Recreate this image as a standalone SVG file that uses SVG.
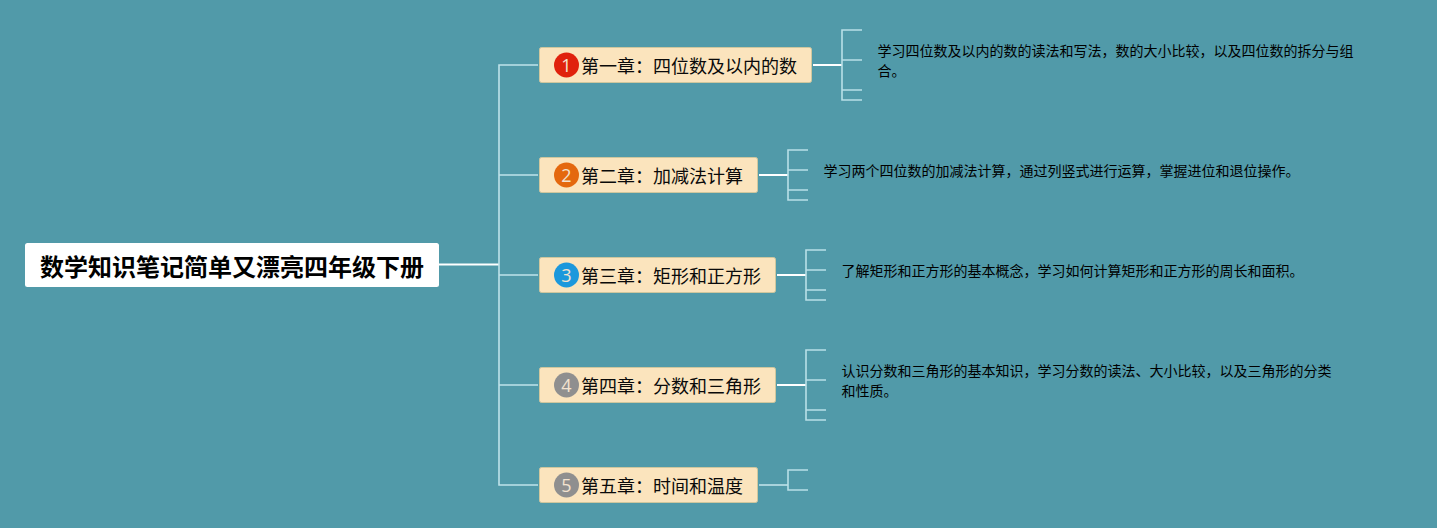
<svg xmlns="http://www.w3.org/2000/svg" width="1437" height="528" viewBox="0 0 1437 528">
<style>
text{font-family:"Noto Sans CJK SC","Liberation Sans",sans-serif}
.bg{fill:#519aa9}
.topic{fill:#fbe4bd;stroke:#cfc79e;stroke-width:1}
.t{font-size:18px;fill:#0a0a0a}
.d{font-size:14px;fill:#000}
.num{font-size:18px;fill:#f3e3d0;text-anchor:middle;font-family:"Open Sans","Liberation Sans",sans-serif}
.l{fill:none;stroke:#bfe3ea;stroke-width:1.6}
.w{fill:none;stroke:#fff;stroke-width:2}
.b{fill:none;stroke:#b8e0e8;stroke-width:1.6}
</style>
<rect class="bg" width="1437" height="528"/>
<g id="connectors">
<path class="w" d="M439 264.500H499"/>
<path class="l" d="M538 65H499V485H538M499 175H538M499 275H538M499 385H538"/>
<path class="w" d="M813 65H842M759 175H788M777 275H806M777 385H806"/>
<path class="l" d="M759 485H788"/>
<path class="b" d="M862 30H842V100H862M842 60H862M842 90H862"/>
<path class="b" d="M808 150H788V200H808M788 170H808M788 190H808"/>
<path class="b" d="M826 250H806V300H826M806 270H826M806 290H826"/>
<path class="b" d="M826 350H806V420H826M806 380H826M806 410H826"/>
<path class="b" d="M808 470H788V490H808"/>
</g>
<g id="root">
<rect x="25" y="243" width="414" height="44" rx="2.500" fill="#fff"/>
<text x="232" y="276" font-size="24" font-weight="700" fill="#000" text-anchor="middle">数学知识笔记简单又漂亮四年级下册</text>
</g>
<g id="topic1">
<rect class="topic" x="539.500" y="47.500" width="272" height="35" rx="2"/>
<circle cx="566.500" cy="65" r="12.500" fill="#e0210c"/>
<text class="num" x="566.500" y="71.500">1</text>
<text class="t" x="581" y="72.500">第一章：四位数及以内的数</text>
</g>
<g id="topic2">
<rect class="topic" x="539.500" y="157.500" width="218" height="35" rx="2"/>
<circle cx="566.500" cy="175" r="12.500" fill="#e4680e"/>
<text class="num" x="566.500" y="181.500">2</text>
<text class="t" x="581" y="182.500">第二章：加减法计算</text>
</g>
<g id="topic3">
<rect class="topic" x="539.500" y="257.500" width="236" height="35" rx="2"/>
<circle cx="566.500" cy="275" r="12.500" fill="#1c98dc"/>
<text class="num" x="566.500" y="281.500">3</text>
<text class="t" x="581" y="282.500">第三章：矩形和正方形</text>
</g>
<g id="topic4">
<rect class="topic" x="539.500" y="367.500" width="236" height="35" rx="2"/>
<circle cx="566.500" cy="385" r="12.500" fill="#8f8f8f"/>
<text class="num" x="566.500" y="391.500">4</text>
<text class="t" x="581" y="392.500">第四章：分数和三角形</text>
</g>
<g id="topic5">
<rect class="topic" x="539.500" y="467.500" width="218" height="35" rx="2"/>
<circle cx="566.500" cy="485" r="12.500" fill="#8f8f8f"/>
<text class="num" x="566.500" y="491.500">5</text>
<text class="t" x="581" y="492.500">第五章：时间和温度</text>
</g>
<g id="note1">
<text class="d" x="877.500" y="56">学习四位数及以内的数的读法和写法，数的大小比较，以及四位数的拆分与组</text>
<text class="d" x="877.500" y="76">合。</text>
</g>
<g id="note2">
<text class="d" x="823.500" y="176">学习两个四位数的加减法计算，通过列竖式进行运算，掌握进位和退位操作。</text>
</g>
<g id="note3">
<text class="d" x="841.500" y="276">了解矩形和正方形的基本概念，学习如何计算矩形和正方形的周长和面积。</text>
</g>
<g id="note4">
<text class="d" x="841.500" y="376">认识分数和三角形的基本知识，学习分数的读法、大小比较，以及三角形的分类</text>
<text class="d" x="841.500" y="396">和性质。</text>
</g>
</svg>
